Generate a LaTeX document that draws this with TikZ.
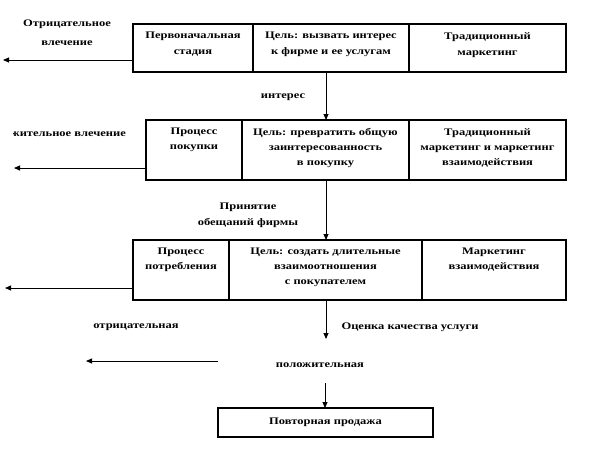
\documentclass[tikz,border=0pt]{standalone}
\usepackage{fontspec}
\setmainfont{Liberation Serif}
\newfontfamily\wfont[FakeStretch=1.25]{Liberation Serif}
\usetikzlibrary{arrows.meta}
\begin{document}
\begin{tikzpicture}[x=1pt,y=-1pt,
  cell/.style={draw=black, line width=1.1pt, rectangle, inner sep=0pt, outer sep=0pt},
  txt/.style={inner sep=0pt, align=center, font=\wfont\fontsize{10}{15}\selectfont\bfseries},
  ctxt/.style={txt, anchor=north, yshift=-8pt},
  arr/.style={line width=0.9pt, -{Triangle[length=6pt,width=5pt]}},
  ln/.style={line width=0.9pt}
]
\useasboundingbox (0,0) rectangle (614,450);
% row 1
\node[cell, minimum width=120pt, minimum height=48pt] (r1c1) at (193,48) {};
\node[cell, minimum width=156pt, minimum height=48pt] (r1c2) at (331,48) {};
\node[cell, minimum width=157pt, minimum height=48pt] (r1c3) at (487.5,48) {};
\node[ctxt, font=\wfont\fontsize{10}{16}\selectfont\bfseries] (t11) at (r1c1.north) {Первоначальная\\стадия};
\node[ctxt, font=\wfont\fontsize{10}{16}\selectfont\bfseries] (t12) at (r1c2.north) {Цель: вызвать интерес\\к фирме и ее услугам};
\node[ctxt, font=\wfont\fontsize{10}{16}\selectfont\bfseries] (t13) at (r1c3.north) {Традиционный\\маркетинг};
% row 2
\node[cell, minimum width=96pt, minimum height=60pt] (r2c1) at (194,150) {};
\node[cell, minimum width=167pt, minimum height=60pt] (r2c2) at (325.5,150) {};
\node[cell, minimum width=157pt, minimum height=60pt] (r2c3) at (487.5,150) {};
\node[ctxt] (t21) at (r2c1.north) {Процесс\\покупки};
\node[ctxt] (t22) at (r2c2.north) {Цель: превратить общую\\заинтересованность\\в покупку};
\node[ctxt] (t23) at (r2c3.north) {Традиционный\\маркетинг и маркетинг\\взаимодействия};
% row 3
\node[cell, minimum width=96pt, minimum height=60pt] (r3c1) at (181,270) {};
\node[cell, minimum width=193pt, minimum height=60pt] (r3c2) at (325.5,270) {};
\node[cell, minimum width=144pt, minimum height=60pt] (r3c3) at (494,270) {};
\node[ctxt] (t31) at (r3c1.north) {Процесс\\потребления};
\node[ctxt] (t32) at (r3c2.north) {Цель: создать длительные\\взаимоотношения\\с покупателем};
\node[ctxt] (t33) at (r3c3.north) {Маркетинг\\взаимодействия};
% final box
\node[cell, minimum width=215pt, minimum height=29pt] (fin) at (325.5,422.5) {};
\node[txt] (tfin) at (fin.center) {Повторная продажа};
% labels
\node[txt, font=\wfont\fontsize{10}{19}\selectfont\bfseries] (neg1) at (67,33) {Отрицательное\\влечение};
\node[txt] (int) at (283,97) {интерес};
\begin{scope}
\clip (13,120) rectangle (140,145);
\node[txt, anchor=east] (pos1) at (126,133) {Положительное влечение};
\end{scope}
\node[txt, font=\wfont\fontsize{10}{16}\selectfont\bfseries] (prin) at (248,215) {Принятие\\обещаний фирмы};
\node[txt] (neg3) at (136,327) {отрицательная};
\node[txt] (ocen) at (410,327) {Оценка качества услуги};
\node[txt] (posv) at (320,365) {положительная};
% coordinates
\coordinate (ax) at (326,0);
\coordinate (l1) at (3,60);
\coordinate (l2) at (14,168);
\coordinate (l3) at (5,288);
\coordinate (e3) at (326,339);
\coordinate (s4) at (325,383);
\coordinate (h4s) at (218,361);
\coordinate (h4e) at (86,361);
% connectors
\draw[arr] (r1c2.south -| ax) -- (r2c2.north -| ax);
\draw[arr] (r2c2.south -| ax) -- (r3c2.north -| ax);
\draw[arr] (r3c2.south -| ax) -- (e3);
\draw[arr] (s4) -- (s4 |- fin.north);
\draw[arr] (r1c1.west |- l1) -- (l1);
\draw[arr] (r2c1.west |- l2) -- (l2);
\draw[arr] (r3c1.west |- l3) -- (l3);
\draw[arr] (h4s) -- (h4e);
\end{tikzpicture}
\end{document}
